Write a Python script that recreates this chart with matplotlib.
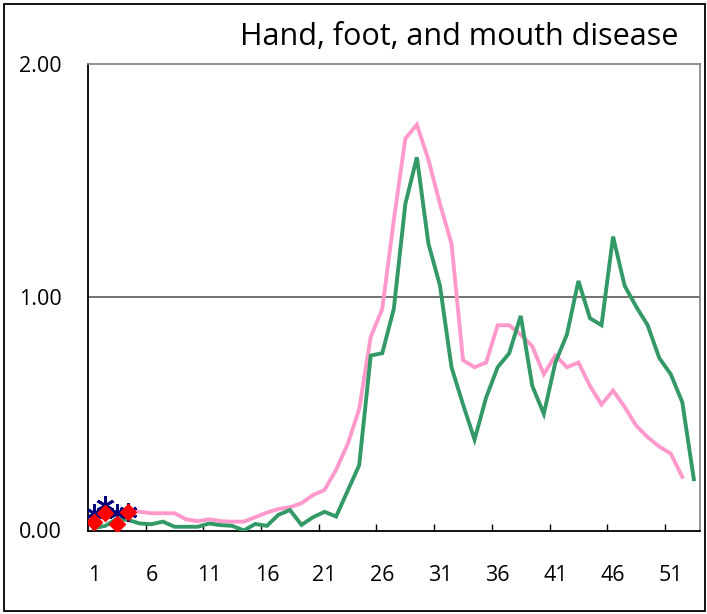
import numpy as np
import matplotlib
matplotlib.use('Agg')
import matplotlib.pyplot as plt
from matplotlib.patches import Rectangle

# weekly values
weeks_green = np.arange(1, 54)
green = [0.01, 0.02, 0.05, 0.045, 0.03, 0.027, 0.038, 0.016, 0.016, 0.016,
         0.03, 0.023, 0.02, 0.0, 0.028, 0.02, 0.067, 0.088, 0.024, 0.057,
         0.08, 0.06, 0.17, 0.28, 0.75, 0.76, 0.95, 1.40, 1.60, 1.23,
         1.05, 0.70, 0.54, 0.39, 0.57, 0.70, 0.76, 0.92, 0.62, 0.50,
         0.72, 0.84, 1.07, 0.91, 0.88, 1.26, 1.05, 0.96, 0.88, 0.74,
         0.67, 0.55, 0.22]

weeks_pink = np.arange(1, 53)
pink = [0.06, 0.08, 0.08, 0.09, 0.08, 0.074, 0.074, 0.074, 0.048, 0.04,
        0.048, 0.04, 0.038, 0.038, 0.057, 0.077, 0.092, 0.10, 0.117, 0.152,
        0.174, 0.26, 0.37, 0.52, 0.83, 0.95, 1.33, 1.68, 1.74, 1.59,
        1.40, 1.23, 0.73, 0.70, 0.72, 0.88, 0.88, 0.84, 0.79, 0.67,
        0.75, 0.70, 0.72, 0.62, 0.54, 0.60, 0.53, 0.45, 0.40, 0.36,
        0.33, 0.23]

weeks_now = [1, 2, 3, 4]
star_vals = [0.074, 0.11, 0.076, 0.08]
diamond_vals = [0.038, 0.076, 0.03, 0.08]

xtick_labels = ['1', '6', '11', '16', '21', '26', '31', '36', '41', '46', '51']
ytick_labels = ['0.00', '1.00', '2.00']

plt.rcParams['font.family'] = ['Open Sans', 'DejaVu Sans']

W, H = 707, 614
fig = plt.figure(figsize=(W / 100, H / 100), dpi=100)
ax = fig.add_axes([88 / W, 1 - 530.5 / H, (699.6 - 88) / W, (530.5 - 64) / H])

ax.plot(weeks_pink, pink, color='#ff99cc', lw=2.8, solid_joinstyle='miter', zorder=3)
ax.plot(weeks_green, green, color='#339966', lw=2.8, solid_joinstyle='miter', zorder=4)
ax.plot(weeks_now, star_vals, ls='none', marker=(6, 2, 0), ms=13, mew=2,
        color='#000080', zorder=5)
ax.plot(weeks_now, diamond_vals, ls='none', marker='D', ms=8.5,
        color='#ff0000', mec='#ff0000', zorder=6)

ax.set_xlim(0.5, 53.5)
ax.set_ylim(0, 2)
ax.axhline(1.0, color='#666666', lw=1.3, zorder=1)

ax.set_xticks(np.arange(5.5, 53, 5))
ax.set_xticks([int(s) for s in xtick_labels], minor=True)
ax.set_xticklabels([])
ax.set_xticklabels(xtick_labels, minor=True)
ax.tick_params(axis='x', which='major', direction='in', length=5, width=1, color='black')
ax.tick_params(axis='x', which='minor', length=0, pad=25, labelsize=15.5)

ax.set_yticks([0, 1, 2])
ax.set_yticklabels(ytick_labels)
ax.tick_params(axis='y', length=0, pad=19, labelsize=15.5)

for s in ['left', 'bottom']:
    ax.spines[s].set_color('black')
    ax.spines[s].set_linewidth(1.3)
for s in ['top', 'right']:
    ax.spines[s].set_color('#808080')
    ax.spines[s].set_linewidth(1.2)

fig.text(678 / W, 1 - 37 / H, 'Hand, foot, and mouth disease', ha='right', va='center',
         fontsize=22)

fig.patches.append(Rectangle((4 / W, 3 / H), 701 / W, 607 / H, transform=fig.transFigure,
                             fill=False, edgecolor='black', lw=1.3))

fig.savefig('out.png', dpi=100)
